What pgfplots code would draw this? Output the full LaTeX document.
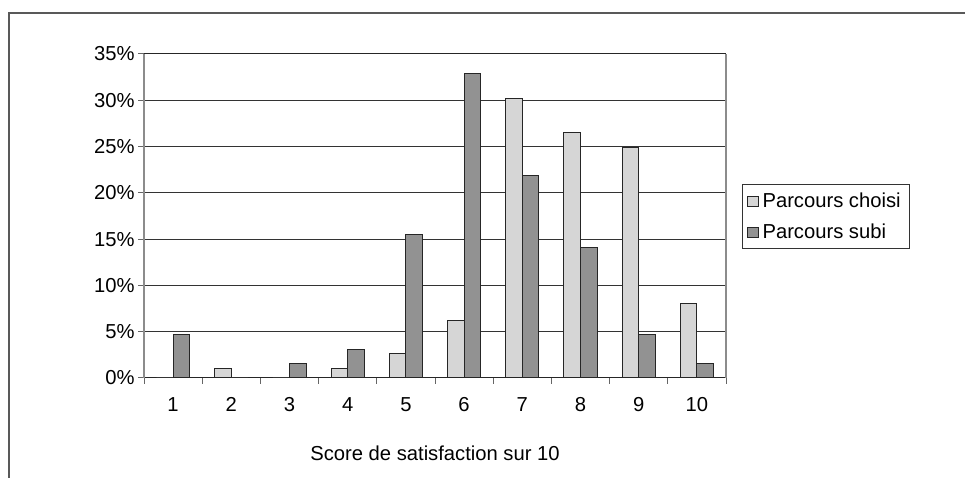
\documentclass[border=0pt]{standalone}
\usepackage{fontspec}
\setmainfont{Liberation Sans}
\usepackage{pgfplots}
\pgfplotsset{compat=1.18}
\definecolor{choisi}{HTML}{D6D6D6}
\definecolor{subi}{HTML}{929292}
\definecolor{barline}{HTML}{262626}
\newcommand{\chartfont}{\fontsize{20.2}{23}\selectfont}
\begin{document}
\begin{tikzpicture}
\useasboundingbox (0,0) rectangle (965pt,478pt);
% outer chart frame
\draw[black!65, line width=1.3pt] (9pt,0pt) -- (9pt,465pt) -- (965pt,465pt);
\begin{axis}[
  at={(144pt,100pt)}, anchor=south west,
  width=582pt, height=324pt, scale only axis,
  ybar=0pt, bar width=16.6pt,
  xmin=0.5, xmax=10.5, ymin=0, ymax=35,
  xtick={0.5,1.5,...,10.5}, xticklabels={},
  extra x ticks={1,2,...,10},
  extra x tick style={major tick length=0pt, xticklabel style={yshift=-16pt}},
  ytick={0,5,...,35},
  yticklabel={\pgfmathprintnumber{\tick}\%},
  /pgf/number format/assume math mode=true,
  tick align=outside, major tick length=6pt,
  xtick pos=lower, ytick pos=left,
  tick style={black!60, line width=1pt},
  ymajorgrids, grid style={black!80, line width=1pt},
  separate axis lines,
  x axis line style={black!85, line width=1pt},
  y axis line style={black!45, line width=1.3pt},
  tick label style={font=\chartfont},
  xlabel={Score de satisfaction sur 10},
  xlabel style={font=\chartfont, yshift=-21pt},
  legend style={at={(1.0275,0.599)}, anchor=north west,
    draw=black!80, line width=0.9pt, font=\chartfont,
    inner xsep=5pt, inner ysep=6.5pt, row sep=11pt,
    nodes={inner xsep=3.5pt}},
  legend cell align=left,
  legend image code/.code={\draw[#1, line width=0.6pt] (3pt,-5pt) rectangle (14pt,5pt);},
]
\addplot[fill=choisi, draw=barline, line width=1pt] coordinates {
  (1,0) (2,1.0) (3,0) (4,1.0) (5,2.7) (6,6.2) (7,30.2) (8,26.5) (9,24.9) (10,8.0)
};
\addplot[fill=subi, draw=barline, line width=1pt] coordinates {
  (1,4.7) (2,0) (3,1.6) (4,3.1) (5,15.5) (6,32.9) (7,21.9) (8,14.1) (9,4.7) (10,1.6)
};
\legend{Parcours choisi, Parcours subi}
\end{axis}
\end{tikzpicture}
\end{document}
